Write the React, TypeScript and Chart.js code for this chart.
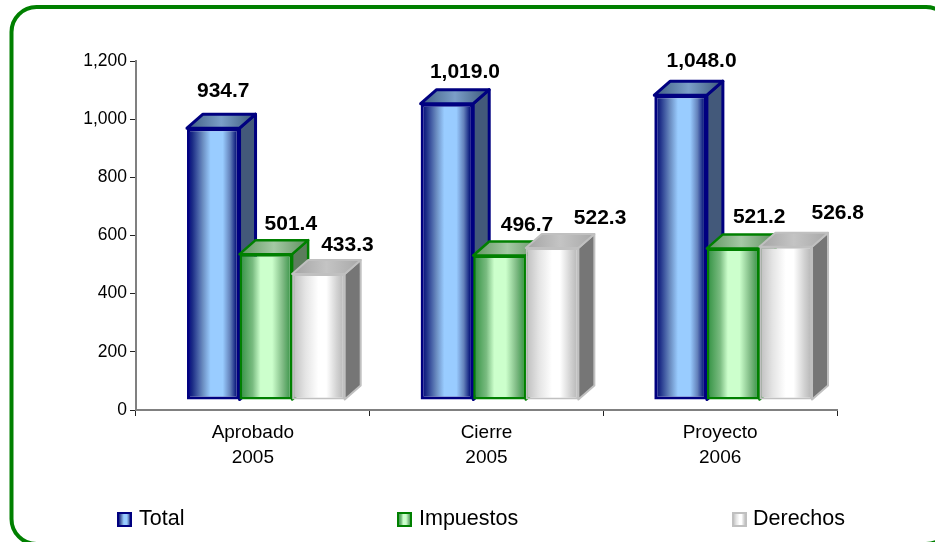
import React, { useEffect, useRef } from "react";
import { Chart, registerables } from "chart.js";

Chart.register(...registerables);

const categories = [["Aprobado", "2005"], ["Cierre", "2005"], ["Proyecto", "2006"]];
const seriesNames = ["Total", "Impuestos", "Derechos"];
const totalValues = [934.7, 1019.0, 1048.0];
const impuestosValues = [501.4, 496.7, 521.2];
const derechosValues = [433.3, 522.3, 526.8];

const FONT = '"Liberation Sans", Arial, sans-serif';
const SHIFT = { x: 13, y: -10 };
const DEPTH = { x: 16, y: 14 };

const labelOffsets = [
  [[10, -37], [18, -31], [21, -34]],
  [[25, -30], [27.5, -30], [26, -31]],
  [[29, -29], [48, -30], [52, -34]],
];
const legendPos = [
  { mark: 118, text: 139 },
  { mark: 398, text: 419 },
  { mark: 733, text: 753 },
];

const looks = [
  {
    border: "#000080",
    borderWidth: 3,
    front: [[0, "#000080"], [0.1, "#1a2a85"], [0.3, "#6a8cc0"], [0.45, "#99ccff"], [0.68, "#99ccff"], [0.82, "#6482bb"], [0.93, "#101f80"], [1, "#000080"]],
    top: [[0, "#3f5d82"], [0.5, "#7b9fc8"], [1, "#3a5678"]],
    side: "#43597a",
  },
  {
    border: "#008000",
    borderWidth: 2.5,
    front: [[0, "#2f8f3f"], [0.25, "#79bb80"], [0.4, "#ccffcc"], [0.62, "#ccffcc"], [0.82, "#80bb85"], [1, "#2f8f3f"]],
    top: [[0, "#5f955f"], [0.5, "#a5c9a5"], [1, "#5f8f5f"]],
    side: "#5c7c5c",
  },
  {
    border: "#c0c0c0",
    borderWidth: 2,
    front: [[0, "#bdbdbd"], [0.25, "#e4e4e4"], [0.5, "#ffffff"], [0.65, "#ffffff"], [0.85, "#d2d2d2"], [1, "#b4b4b4"]],
    top: [[0, "#a4a4a4"], [0.5, "#c4c4c4"], [1, "#a8a8a8"]],
    side: "#767676",
  },
];

function hGrad(ctx: CanvasRenderingContext2D, x0: number, x1: number, stops: any[]) {
  const g = ctx.createLinearGradient(x0, 0, x1, 0);
  stops.forEach(([p, c]) => g.addColorStop(p, c));
  return g;
}

const framePlugin = {
  id: "frame",
  beforeDraw(chart: any) {
    const ctx = chart.ctx;
    ctx.save();
    ctx.beginPath();
    ctx.roundRect(11.5, 7, 939.5, 537, 25);
    ctx.lineWidth = 4;
    ctx.strokeStyle = "#008000";
    ctx.stroke();
    ctx.restore();
  },
};

const bar3dPlugin = {
  id: "bar3d",
  // Chart.js paints datasets last-to-first; the 3D look needs first-to-last,
  // because each bar's front hides the side of the bar on its left.
  beforeDatasetsDraw(chart: any) {
    const ctx = chart.ctx;
    chart.data.datasets.forEach((_ds: any, i: number) => {
      const look = looks[i];
      ctx.save();
      ctx.translate(SHIFT.x, SHIFT.y);
      chart.getDatasetMeta(i).data.forEach((el: any) => {
        const l = el.x - el.width / 2;
        const r = el.x + el.width / 2;
        const t = el.y;
        const b = el.base;
        ctx.lineWidth = look.borderWidth;
        ctx.lineJoin = "round";
        ctx.strokeStyle = look.border;
        // side face
        ctx.beginPath();
        ctx.moveTo(r, t);
        ctx.lineTo(r + DEPTH.x, t - DEPTH.y);
        ctx.lineTo(r + DEPTH.x, b - DEPTH.y);
        ctx.lineTo(r, b);
        ctx.closePath();
        ctx.fillStyle = look.side;
        ctx.fill();
        ctx.stroke();
        // top face
        ctx.beginPath();
        ctx.moveTo(l, t);
        ctx.lineTo(l + DEPTH.x, t - DEPTH.y);
        ctx.lineTo(r + DEPTH.x, t - DEPTH.y);
        ctx.lineTo(r, t);
        ctx.closePath();
        ctx.fillStyle = hGrad(ctx, l, r + DEPTH.x, look.top);
        ctx.fill();
        ctx.stroke();
        // front face is the bar element itself
        el.options = { ...el.options, backgroundColor: hGrad(ctx, l, r, look.front) };
        el.draw(ctx);
      });
      ctx.restore();
    });
  },
  beforeDatasetDraw() {
    return false;
  },
  afterDatasetsDraw(chart: any) {
    const ctx = chart.ctx;
    ctx.save();
    ctx.font = `bold 21px ${FONT}`;
    ctx.fillStyle = "#000";
    ctx.textAlign = "center";
    ctx.textBaseline = "middle";
    chart.data.datasets.forEach((ds: any, i: number) => {
      chart.getDatasetMeta(i).data.forEach((el: any, j: number) => {
        const [dx, dy] = labelOffsets[i][j];
        ctx.fillText(
          ds.data[j].toLocaleString("en-US", { minimumFractionDigits: 1, maximumFractionDigits: 1 }),
          el.x + SHIFT.x + dx,
          el.y + SHIFT.y + dy
        );
      });
    });
    // legend
    ctx.font = `21.5px ${FONT}`;
    ctx.textAlign = "left";
    chart.data.datasets.forEach((ds: any, i: number) => {
      const look = looks[i];
      const p = legendPos[i];
      ctx.fillStyle = hGrad(ctx, p.mark, p.mark + 13, look.front);
      ctx.fillRect(p.mark, 513, 13, 13);
      ctx.lineWidth = 2;
      ctx.strokeStyle = look.border;
      ctx.strokeRect(p.mark, 513, 13, 13);
      ctx.fillStyle = "#000";
      ctx.fillText(ds.label, p.text, 519);
    });
    ctx.restore();
  },
};

export default function App() {
  const ref = useRef<HTMLCanvasElement>(null);
  useEffect(() => {
    const series = [totalValues, impuestosValues, derechosValues];
    const chart = new Chart(ref.current as HTMLCanvasElement, {
      type: "bar",
      data: {
        labels: categories as any,
        datasets: series.map((data, i) => ({
          label: seriesNames[i],
          data,
          backgroundColor: "#ffffff",
          borderColor: looks[i].border,
          borderWidth: looks[i].borderWidth,
          borderSkipped: false as any,
          inflateAmount: 0,
          categoryPercentage: 0.675,
          barPercentage: 1,
        })),
      },
      options: {
        responsive: false,
        animation: false,
        layout: { padding: { top: 61, right: 98, left: 0, bottom: 0 } },
        plugins: { legend: { display: false }, tooltip: { enabled: false }, title: { display: false } },
        scales: {
          x: {
            afterFit: (s: any) => { s.height = 132; },
            border: { color: "#808080", width: 2 },
            grid: { drawOnChartArea: false, drawTicks: true, tickLength: 6, tickColor: "#222", tickWidth: 1 },
            ticks: { color: "#000", font: { family: FONT, size: 19, lineHeight: 1.32 }, padding: 4, maxRotation: 0, autoSkip: false },
          },
          y: {
            min: 0,
            max: 1200,
            afterFit: (s: any) => { s.width = 136; },
            border: { color: "#808080", width: 2 },
            grid: { drawOnChartArea: false, drawTicks: true, tickLength: 6, tickColor: "#222", tickWidth: 1 },
            ticks: {
              stepSize: 200,
              color: "#000",
              padding: 3,
              font: { family: FONT, size: 17.5 },
              callback: (v: any) => Number(v).toLocaleString("en-US"),
            },
          },
        },
      },
      plugins: [framePlugin, bar3dPlugin],
    } as any);
    return () => chart.destroy();
  }, []);
  return (
    <div style={{ position: "absolute", left: 0, top: 0, width: 935, height: 542, overflow: "hidden", background: "#fff" }}>
      <canvas ref={ref} width={935} height={542} style={{ display: "block" }} />
    </div>
  );
}
